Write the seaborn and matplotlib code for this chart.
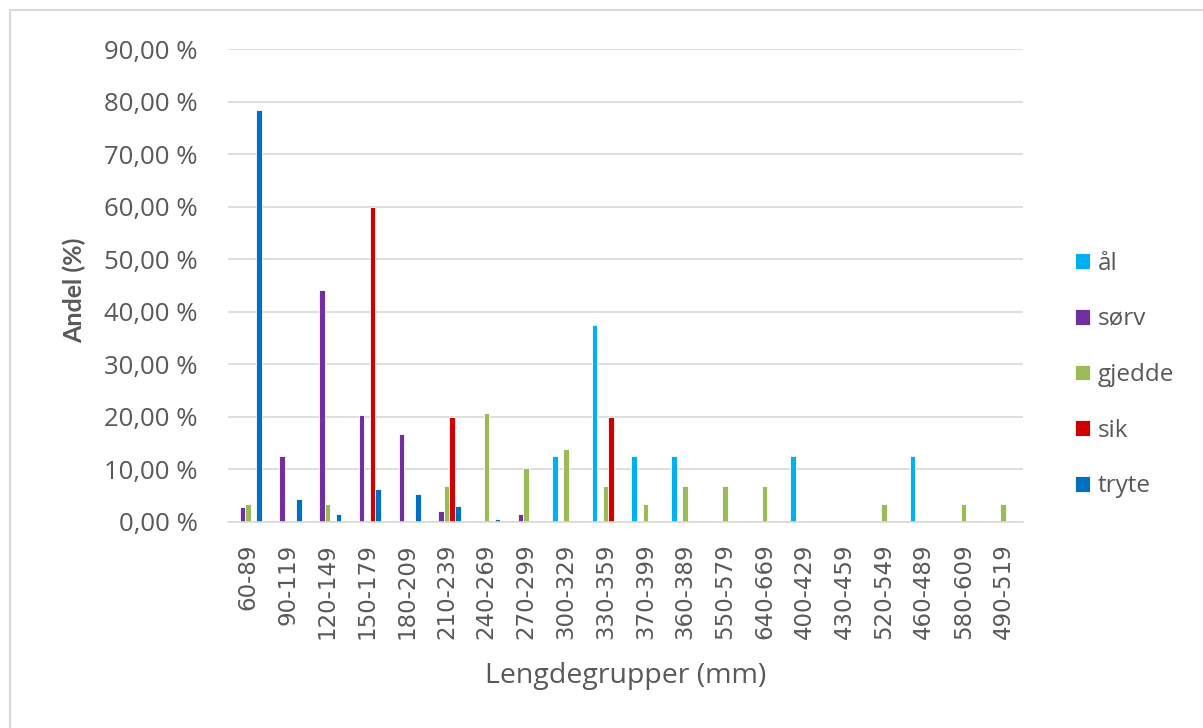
import numpy as np
import pandas as pd
import matplotlib
matplotlib.use("Agg")
import matplotlib.pyplot as plt
import seaborn as sns
from matplotlib.ticker import FuncFormatter
from matplotlib.patches import Rectangle

categories = ["60-89", "90-119", "120-149", "150-179", "180-209", "210-239",
              "240-269", "270-299", "300-329", "330-359", "370-399", "360-389",
              "550-579", "640-669", "400-429", "430-459", "520-549", "460-489",
              "580-609", "490-519"]
series = ["ål", "sørv", "gjedde", "sik", "tryte"]

aal    = [0, 0, 0, 0, 0, 0, 0, 0, 12.5, 37.5, 12.5, 12.5, 0, 0, 12.5, 0, 0, 12.5, 0, 0]
sorv   = [2.9, 12.5, 44.1, 20.4, 16.7, 2.0, 0, 1.5, 0, 0, 0, 0, 0, 0, 0, 0, 0, 0, 0, 0]
gjedde = [3.45, 0, 3.45, 0, 0, 6.9, 20.7, 10.3, 13.8, 6.9, 3.45, 6.9, 6.9, 6.9, 0, 0, 3.45, 0, 3.45, 3.45]
sik    = [0, 0, 0, 60.0, 0, 20.0, 0, 0, 0, 20.0, 0, 0, 0, 0, 0, 0, 0, 0, 0, 0]
tryte  = [78.3, 4.4, 1.5, 6.3, 5.4, 3.0, 0.5, 0, 0, 0, 0, 0, 0, 0, 0, 0, 0, 0, 0, 0]

colors = ["#00B0F0", "#7030A0", "#9BBB59", "#D00000", "#0070C0"]

rows = []
for name, vals in zip(series, [aal, sorv, gjedde, sik, tryte]):
    for c, v in zip(categories, vals):
        if v > 0:
            rows.append({"Lengdegruppe": c, "Art": name, "Andel": v / 100.0})
df = pd.DataFrame(rows)

sns.set_theme(style="white")
plt.rcParams["font.family"] = ["Open Sans", "DejaVu Sans"]

W, H = 1203, 728
fig = plt.figure(figsize=(W / 100, H / 100), dpi=100)
ax = fig.add_axes([228 / W, 1 - 522 / H, (1023 - 228) / W, (522 - 49) / H])

sns.barplot(data=df, x="Lengdegruppe", y="Andel", hue="Art", order=categories,
            hue_order=series, palette=colors, saturation=1, width=0.7, dodge=True,
            edgecolor="white", linewidth=0.6, ax=ax, legend=True)

ax.set_ylim(0, 0.9)
ax.set_xlim(-0.5, len(categories) - 0.5)
ax.set_yticks(np.arange(0, 0.91, 0.1))
ax.yaxis.set_major_formatter(FuncFormatter(lambda v, p: f"{v*100:.2f} %".replace(".", ",")))
ax.grid(axis="y", color="#D9D9D9", linewidth=1.2)
ax.set_axisbelow(True)
for s in ["left", "right", "top"]:
    ax.spines[s].set_visible(False)
ax.spines["bottom"].set_color("#D9D9D9")
ax.spines["bottom"].set_linewidth(1.2)
ax.tick_params(axis="y", colors="#595959", labelsize=18.5, length=0, pad=22)
ax.tick_params(axis="x", colors="#595959", length=0, pad=15.5)
ax.set_xticks(range(len(categories)))
ax.set_xticklabels(categories, rotation=90, fontsize=16.5, family=["DejaVu Sans"],
                   color="#595959")
ax.set_xlabel("Lengdegrupper (mm)", fontsize=20.5, color="#595959")
ax.xaxis.set_label_coords(0.5, -(662 - 522) / 473)
ax.set_ylabel("Andel (%)", fontsize=18, color="#595959", fontweight="bold",
              family=["Lato", "DejaVu Sans"])
ax.yaxis.set_label_coords((86 - 228) / 795, (522 - 290) / 473)

handles, labels = ax.get_legend_handles_labels()
if ax.get_legend():
    ax.get_legend().remove()
fig.legend(handles, labels, loc="center left", bbox_to_anchor=(1075 / W, 1 - 375 / H),
           frameon=False, fontsize=17.5, labelcolor="#595959", handlelength=0.62,
           handleheight=0.62, handletextpad=0.33, labelspacing=1.3,
           borderaxespad=0, borderpad=0)

fig.patches.append(Rectangle((10 / W, -0.05), 1.2, 1 - 10 / H + 0.05,
                             transform=fig.transFigure, fill=False,
                             edgecolor="#D9D9D9", linewidth=1.5))

fig.savefig("out.png", dpi=100, facecolor="white")
